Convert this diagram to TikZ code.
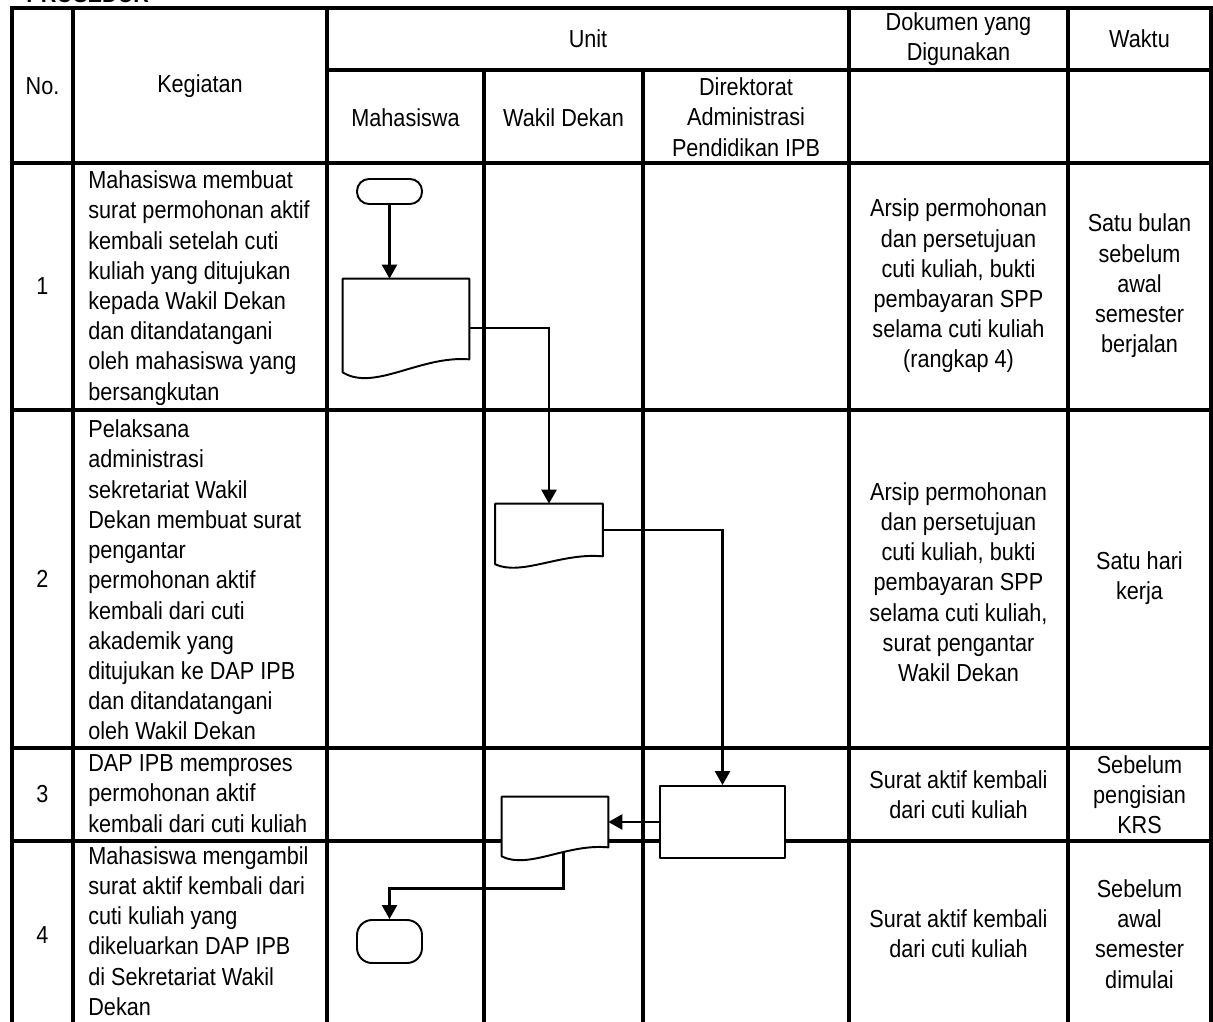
\documentclass[tikz,border=0pt]{standalone}
\usepackage{fontspec}
\setmainfont{Liberation Sans}[FakeStretch=0.88]
\usepackage{tikz}
\usetikzlibrary{calc,arrows.meta}
\newcommand\fsz{\fontsize{14}{17.2}\selectfont}
\tikzset{
  grid/.style={draw=black, line width=1.8pt, line cap=rect},
  flow/.style={draw=black, line width=1.4pt, -{Triangle[length=0.28cm,width=0.3cm]}},
  shp/.style={draw=black, line width=1.1pt, fill=white, line join=round},
  term/.style={shp, rectangle, minimum width=1.3cm, inner sep=0pt},
  docbox/.style={rectangle, inner sep=0pt, draw=none},
  proc/.style={shp, rectangle, minimum width=2.5cm, minimum height=1.44cm, inner sep=0pt},
  cell/.style={font=\fsz, align=center, inner sep=0pt},
  keg/.style={font=\fsz, align=left, anchor=west, inner sep=0pt},
}
\begin{document}
\begin{tikzpicture}[x=0.02cm, y=-0.02cm]
  \useasboundingbox (0,0) rectangle (1213,1021);
  \node[anchor=base west, inner sep=0pt, font=\fsz\bfseries] (title) at (26,3) {PROSEDUR};

  \draw[grid] (12,8) -- (1211,8);
  \draw[grid] (327,70) -- (1211,70);
  \foreach \y in {163,410,748,841} \draw[grid] (12,\y) -- (1211,\y);
  \foreach \x in {12,73,327,849,1068,1211} \draw[grid] (\x,8) -- (\x,1030);
  \foreach \x in {484,643} \draw[grid] (\x,70) -- (\x,1030);

  \node[cell] (hno) at (42.5,86) {No.};
  \node[cell] (hkeg) at (200,86) {Kegiatan};
  \node[cell] (hunit) at (588,39) {Unit};
  \node[cell] (hdok) at (958.5,39) {Dokumen yang\\Digunakan};
  \node[cell] (hwkt) at (1139.5,39) {Waktu};
  \node[cell] (hmhs) at (405.5,118) {Mahasiswa};
  \node[cell] (hwd) at (563.5,118) {Wakil Dekan};
  \node[cell] (hdir) at (746,117) {Direktorat\\Administrasi\\Pendidikan IPB};

  \node[cell] (no1) at (42.5,286.5) {1};
  \node[keg] (keg1) at (88,288) {Mahasiswa membuat\\surat permohonan aktif\\kembali setelah cuti\\kuliah yang ditujukan\\kepada Wakil Dekan\\dan ditandatangani\\oleh mahasiswa yang\\bersangkutan};
  \node[cell] (dok1) at (958.5,286) {Arsip permohonan\\dan persetujuan\\cuti kuliah, bukti\\pembayaran SPP\\selama cuti kuliah\\(rangkap 4)};
  \node[cell] (wkt1) at (1139.5,286) {Satu bulan\\sebelum\\awal\\semester\\berjalan};

  \node[cell] (no2) at (42.5,579) {2};
  \node[keg] (keg2) at (88,580) {Pelaksana\\administrasi\\sekretariat Wakil\\Dekan membuat surat\\pengantar\\permohonan aktif\\kembali dari cuti\\akademik yang\\ditujukan ke DAP IPB\\dan ditandatangani\\oleh Wakil Dekan};
  \node[cell] (dok2) at (958.5,582) {Arsip permohonan\\dan persetujuan\\cuti kuliah, bukti\\pembayaran SPP\\selama cuti kuliah,\\surat pengantar\\Wakil Dekan};
  \node[cell] (wkt2) at (1139.5,578) {Satu hari\\kerja};

  \node[cell] (no3) at (42.5,794.5) {3};
  \node[keg] (keg3) at (88,793.5) {DAP IPB memproses\\permohonan aktif\\kembali dari cuti kuliah};
  \node[cell] (dok3) at (958.5,794.5) {Surat aktif kembali\\dari cuti kuliah};
  \node[cell] (wkt3) at (1139.5,794.5) {Sebelum\\pengisian\\KRS};

  \node[cell] (no4) at (42.5,935.5) {4};
  \node[keg] (keg4) at (88,931) {Mahasiswa mengambil\\surat aktif kembali dari\\cuti kuliah yang\\dikeluarkan DAP IPB\\di Sekretariat Wakil\\Dekan};
  \node[cell] (dok4) at (958.5,934) {Surat aktif kembali\\dari cuti kuliah};
  \node[cell] (wkt4) at (1139.5,934) {Sebelum\\awal\\semester\\dimulai};

  \node[term, rounded corners=0.24cm, minimum height=0.5cm] (start) at (389.5,191.5) {};
  \node[docbox, minimum width=2.52cm, minimum height=1.6cm] (d1) at (406,319) {};
  \node[docbox, minimum width=2.14cm, minimum height=1.04cm] (d2) at (549,530) {};
  \node[proc] (dap) at (722.5,822) {};
  \node[docbox, minimum width=2.12cm, minimum height=1.0cm] (d3) at (555,822) {};
  \node[term, rounded corners=0.3cm, minimum height=0.86cm] (end) at (389.5,941.5) {};

  \draw[flow] (start.south) -- (start.south |- d1.north);
  \draw[flow] ($(d1.east)+(0,9)$) -| (d2.north);
  \draw[flow] (d2.east) -| (dap.north);
  \draw[flow] (dap.west) -- (d3.east);
  \draw[flow] ($(d3.south east)!0.42!(d3.south west)$) -- ++(0,41) -| (end.north);

  \foreach \dc/\h in {d1/13,d2/8,d3/9}
    \draw[shp] (\dc.north west) -- (\dc.north east) -- (\dc.south east)
      .. controls ($(\dc.south east)!0.39!(\dc.south west)+(0,-4)$) and ($(\dc.south east)!0.75!(\dc.south west)+(0,2.5*\h)$) .. ($(\dc.south west)+(0,\h)$) -- cycle;
\end{tikzpicture}
\end{document}
